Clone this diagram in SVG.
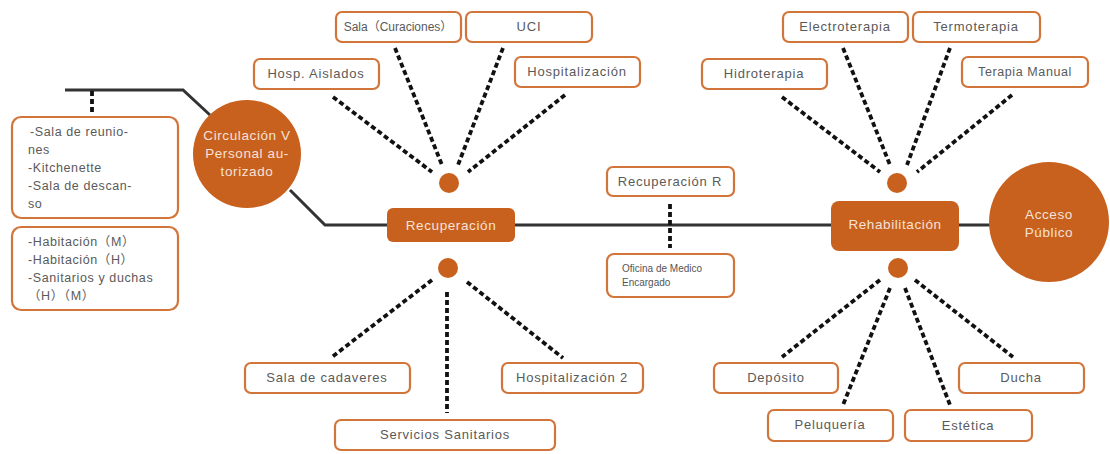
<svg xmlns="http://www.w3.org/2000/svg" width="1110" height="454" viewBox="0 0 1110 454">
<style>
.box{fill:#fff;stroke:#D2753A;stroke-width:2.2}
.hub{fill:#C8601E}
.t{font-family:"Liberation Sans",Arial,"Noto Sans CJK SC",sans-serif;font-size:13px;fill:#5a5a5a;letter-spacing:0.8px}
.tl{font-family:"Liberation Sans",Arial,"Noto Sans CJK SC",sans-serif;font-size:12.5px;fill:#5a5a5a;letter-spacing:0.6px}
.w{font-family:"Liberation Sans",Arial,sans-serif;font-size:13.5px;fill:#F6E2D6;letter-spacing:0.6px}
.main{fill:none;stroke:#333;stroke-width:3}
.d{stroke:#111;stroke-width:3.8;stroke-dasharray:5 3}
</style>
<rect width="1110" height="454" fill="#fff"/>
<g id="connectors">
<polyline class="main" points="65,90 183,90 210,115"/>
<polyline class="main" points="290,190 325,225 1000,225"/>
<line class="d" x1="92" y1="91" x2="92" y2="113"/>
<line class="d" x1="333" y1="97" x2="432" y2="172"/>
<line class="d" x1="395" y1="48" x2="442" y2="165"/>
<line class="d" x1="503" y1="48" x2="458" y2="165"/>
<line class="d" x1="565" y1="95" x2="468" y2="172"/>
<line class="d" x1="782" y1="97" x2="880" y2="172"/>
<line class="d" x1="843" y1="48" x2="890" y2="165"/>
<line class="d" x1="950" y1="48" x2="907" y2="165"/>
<line class="d" x1="1012" y1="95" x2="917" y2="172"/>
<line class="d" x1="432" y1="280" x2="332" y2="357"/>
<line class="d" x1="447" y1="292" x2="447" y2="413"/>
<line class="d" x1="467" y1="282" x2="563" y2="358"/>
<line class="d" x1="880" y1="280" x2="782" y2="357"/>
<line class="d" x1="890" y1="288" x2="843" y2="405"/>
<line class="d" x1="905" y1="288" x2="950" y2="405"/>
<line class="d" x1="915" y1="280" x2="1013" y2="357"/>
<line class="d" x1="670" y1="204" x2="670" y2="248"/>
</g>
<g id="circulacion">
<circle class="hub" cx="247" cy="154" r="54"/>
<text class="w" text-anchor="middle"><tspan x="247" y="140">Circulación V</tspan><tspan x="247" y="158">Personal au-</tspan><tspan x="247" y="176">torizado</tspan></text>
</g>
<g id="box-personal">
<rect class="box" x="12" y="117" width="166" height="101" rx="9"/>
<text class="tl"><tspan x="30" y="136">-Sala de reunio-</tspan><tspan x="28" y="154">nes</tspan><tspan x="28" y="172">-Kitchenette</tspan><tspan x="28" y="190">-Sala de descan-</tspan><tspan x="28" y="208">so</tspan></text>
</g>
<g id="box-habitacion">
<rect class="box" x="12" y="227" width="166" height="83" rx="9"/>
<text class="tl"><tspan x="28" y="246">-Habitación（M）</tspan><tspan x="28" y="264">-Habitación（H）</tspan><tspan x="28" y="282">-Sanitarios y duchas</tspan><tspan x="28" y="300">（H）（M）</tspan></text>
</g>
<g id="recuperacion">
<rect class="hub" x="387" y="208" width="128" height="34" rx="6"/>
<text class="w" x="451" y="230" text-anchor="middle">Recuperación</text>
<circle class="hub" cx="449" cy="183" r="10"/>
<circle class="hub" cx="448" cy="268" r="10"/>
</g>
<g id="sala-curaciones"><rect class="box" x="336" y="12" width="125" height="30" rx="6"/><text class="t" x="398" y="31" text-anchor="middle" style="font-size:12px;letter-spacing:0">Sala（Curaciones）</text></g>
<g id="uci"><rect class="box" x="466" y="12" width="126" height="30" rx="6"/><text class="t" x="529" y="31" text-anchor="middle">UCI</text></g>
<g id="hosp-aislados"><rect class="box" x="254" y="59" width="125" height="30" rx="6"/><text class="t" x="316" y="78" text-anchor="middle">Hosp. Aislados</text></g>
<g id="hospitalizacion"><rect class="box" x="515" y="57" width="125" height="30" rx="6"/><text class="t" x="577" y="76" text-anchor="middle">Hospitalización</text></g>
<g id="sala-cadaveres"><rect class="box" x="245" y="363" width="165" height="30" rx="6"/><text class="t" x="327" y="382" text-anchor="middle">Sala de cadaveres</text></g>
<g id="hospitalizacion-2"><rect class="box" x="502" y="363" width="141" height="30" rx="6"/><text class="t" x="572" y="382" text-anchor="middle">Hospitalización 2</text></g>
<g id="servicios-sanitarios"><rect class="box" x="335" y="420" width="220" height="30" rx="6"/><text class="t" x="445" y="439" text-anchor="middle">Servicios Sanitarios</text></g>
<g id="recuperacion-r"><rect class="box" x="607" y="167" width="127" height="29" rx="6"/><text class="t" x="670" y="186" text-anchor="middle">Recuperación R</text></g>
<g id="oficina"><rect class="box" x="607" y="254" width="127" height="43" rx="7"/><text font-family="Liberation Sans,Arial,sans-serif" font-size="10" fill="#555"><tspan x="622" y="272">Oficina de Medico</tspan><tspan x="622" y="286">Encargado</tspan></text></g>
<g id="rehabilitacion">
<rect class="hub" x="831" y="201" width="128" height="50" rx="8"/>
<text class="w" x="895" y="229" text-anchor="middle">Rehabilitación</text>
<circle class="hub" cx="897" cy="183" r="10"/>
<circle class="hub" cx="898" cy="268" r="10"/>
</g>
<g id="electroterapia"><rect class="box" x="783" y="12" width="125" height="30" rx="6"/><text class="t" x="845" y="31" text-anchor="middle">Electroterapia</text></g>
<g id="termoterapia"><rect class="box" x="913" y="12" width="127" height="30" rx="6"/><text class="t" x="976" y="31" text-anchor="middle">Termoterapia</text></g>
<g id="hidroterapia"><rect class="box" x="702" y="59" width="125" height="30" rx="6"/><text class="t" x="764" y="78" text-anchor="middle">Hidroterapia</text></g>
<g id="terapia-manual"><rect class="box" x="962" y="57" width="126" height="30" rx="6"/><text class="tl" x="1025" y="76" text-anchor="middle">Terapia Manual</text></g>
<g id="deposito"><rect class="box" x="714" y="363" width="124" height="30" rx="6"/><text class="t" x="776" y="382" text-anchor="middle">Depósito</text></g>
<g id="ducha"><rect class="box" x="959" y="363" width="125" height="30" rx="6"/><text class="t" x="1021" y="382" text-anchor="middle">Ducha</text></g>
<g id="peluqueria"><rect class="box" x="768" y="410" width="125" height="31" rx="6"/><text class="t" x="830" y="429" text-anchor="middle">Peluquería</text></g>
<g id="estetica"><rect class="box" x="905" y="410" width="127" height="31" rx="6"/><text class="t" x="968" y="430" text-anchor="middle">Estética</text></g>
<g id="acceso-publico">
<circle class="hub" cx="1049" cy="222" r="60"/>
<text class="w" text-anchor="middle"><tspan x="1049" y="219">Acceso</tspan><tspan x="1049" y="237">Público</tspan></text>
</g>
</svg>
